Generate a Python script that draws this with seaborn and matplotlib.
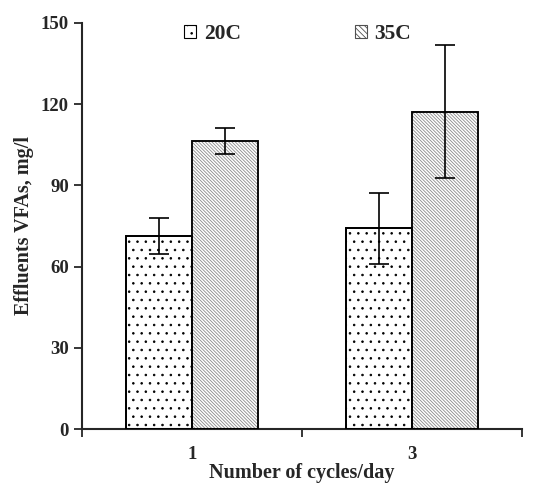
import pandas as pd
import numpy as np
import matplotlib
matplotlib.use("Agg")
import matplotlib.pyplot as plt
import matplotlib.patches as mpatches
import seaborn as sns

cycles = ["1", "3"]
temps = ["20C", "35C"]
vfa_20 = [71.3, 74.2]
vfa_35 = [106.5, 117.2]
err_20 = [6.8, 13.1]
err_35 = [4.8, 24.5]

sns.set_style("ticks")
plt.rcParams["font.family"] = ["Liberation Serif", "DejaVu Serif"]
plt.rcParams["font.weight"] = "bold"
plt.rcParams["hatch.linewidth"] = 0.6

df = pd.DataFrame({
    "cycles": cycles * 2,
    "temp": [temps[0]] * 2 + [temps[1]] * 2,
    "vfa": vfa_20 + vfa_35,
})
errs = {temps[0]: err_20, temps[1]: err_35}
hatches = {temps[0]: "..", temps[1]: "\\" * 10}

fig = plt.figure(figsize=(5.37, 4.86), dpi=100)
ax = fig.add_axes([0.153, 0.117, 0.819, 0.836])

sns.barplot(data=df, x="cycles", y="vfa", hue="temp", order=cycles, hue_order=temps,
            width=0.6, palette=["white", "white"], edgecolor="black", linewidth=1.3,
            errorbar=None, legend=False, ax=ax)

for cont, t in zip(ax.containers, temps):
    xs, ys = [], []
    for bar in cont:
        bar.set_hatch(hatches[t])
        bar.set_edgecolor("black" if t == "20C" else "#8a8a8a")
        xs.append(bar.get_x() + bar.get_width() / 2)
        ys.append(bar.get_height())
        # crisp black outline on top of the gray hatch
        ax.add_patch(mpatches.Rectangle((bar.get_x(), 0), bar.get_width(), bar.get_height(),
                                        fill=False, edgecolor="black", linewidth=1.3, zorder=3))
    ax.errorbar(xs, ys, yerr=errs[t], fmt="none", ecolor="black", elinewidth=1.2,
                capsize=7, capthick=1.2, zorder=4)

ax.set_ylim(0, 150)
ax.set_yticks([0, 30, 60, 90, 120, 150])
ax.set_xlim(-0.5, 1.5)
ax.set_xticks([-0.5, 0.5, 1.5])
ax.set_xticklabels([])
ax.set_xticks([0, 1], minor=True)
ax.set_xticklabels(cycles, minor=True)
ax.tick_params(axis="x", which="minor", length=0, pad=12)
ax.tick_params(axis="both", which="major", length=6, width=1.3, labelsize=13.5)
ax.tick_params(axis="x", which="minor", labelsize=13.5)
for lab in ax.get_yticklabels() + ax.get_xticklabels(minor=True):
    lab.set_fontweight("bold")

sns.despine(ax=ax)
for s in ["left", "bottom"]:
    ax.spines[s].set_linewidth(1.5)

ax.set_xlabel("Number of cycles/day", fontsize=14.5, fontweight="bold", labelpad=0)
ax.set_ylabel("Effluents VFAs, mg/l", fontsize=14.5, fontweight="bold", labelpad=5)

handles = [mpatches.Patch(facecolor="white", edgecolor="black", hatch="..", linewidth=0.8),
           mpatches.Patch(facecolor="white", edgecolor="#505050", hatch="\\" * 6, linewidth=0.8)]
ax.legend(handles, temps, loc="upper center", bbox_to_anchor=(0.49, 1.045), ncol=2,
          frameon=False, handlelength=0.55, handleheight=0.55, handletextpad=0.35,
          columnspacing=5.3, prop={"weight": "bold", "size": 15.5})

fig.savefig("out.png", dpi=100)
